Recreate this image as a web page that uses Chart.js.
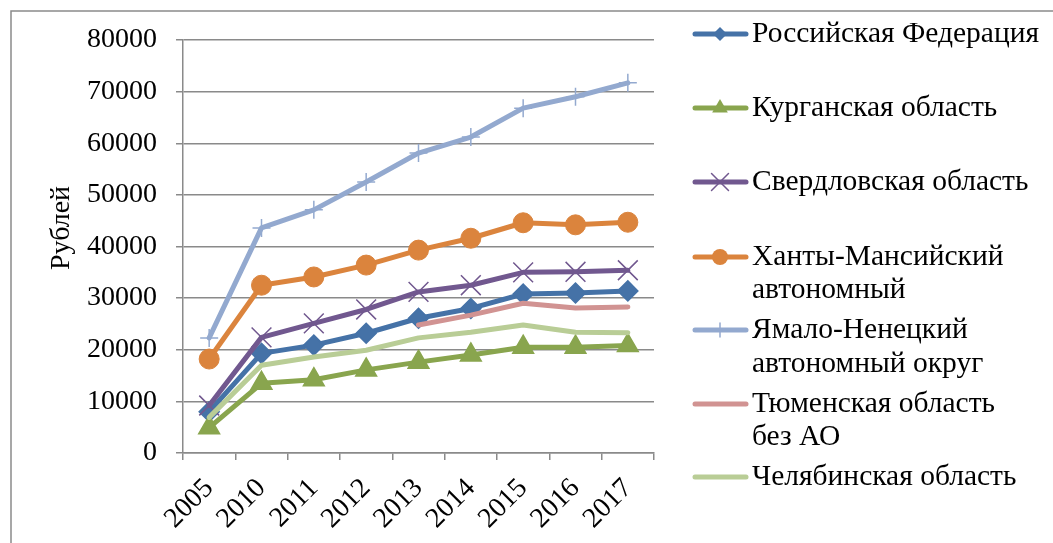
<!DOCTYPE html>
<html lang="ru">
<head>
<meta charset="utf-8">
<title>Рублей</title>
<script src="https://cdn.jsdelivr.net/npm/chart.js@4.4.1/dist/chart.umd.min.js"></script>
<style>
  html, body { margin: 0; padding: 0; background: #fff; }
  #wrap { position: relative; width: 1053px; height: 543px; overflow: hidden; }
</style>
</head>
<body>
<div id="wrap"><canvas id="wageChart" width="1053" height="543"></canvas></div>
<script>
const years = ["2005","2010","2011","2012","2013","2014","2015","2016","2017"];

const rf     = [8000, 19300, 20900, 23200, 26100, 28000, 30800, 31000, 31400];
const kurgan = [4900, 13500, 14200, 16100, 17600, 19000, 20500, 20500, 20800];
const sverdl = [9200, 22400, 25100, 27800, 31200, 32500, 35000, 35100, 35400];
const khanty = [18200, 32500, 34100, 36400, 39300, 41600, 44600, 44200, 44700];
const yamal  = [22300, 43600, 47100, 52500, 58100, 61200, 66800, 69000, 71700];
const tyumen = [null, null, null, null, 24800, 26700, 29000, 28100, 28300];
const chel   = [6900, 17000, 18600, 19900, 22300, 23400, 24800, 23400, 23300];

const seriesNames = [
  ["Российская Федерация"],
  ["Курганская область"],
  ["Свердловская область"],
  ["Ханты-Мансийский", "автономный"],
  ["Ямало-Ненецкий", "автономный округ"],
  ["Тюменская область", "без АО"],
  ["Челябинская область"]
];

const yTicks = [0, 10000, 20000, 30000, 40000, 50000, 60000, 70000, 80000];

const FONT = "\"Liberation Serif\", \"Times New Roman\", serif";
const GRID = "#8a8a8a";

// marker style per series: shape, size, line width of the marker itself
const markers = [
  { style: "rectRot",  r: 10, w: 1.5, legendR: 7 },
  { style: "triangle", r: 12, w: 1.5, legendR: 9 },
  { style: "crossRot", r: 14, w: 1.5, legendR: 12 },
  { style: "circle",   r: 10, w: 1,   legendR: 8 },
  { style: "cross",    r: 9,  w: 1.5, legendR: 7 },
  { style: false,      r: 0,  w: 0,   legendR: 0 },
  { style: false,      r: 0,  w: 0,   legendR: 0 }
];

const colors = ["#4572a7", "#89a54e", "#71588f", "#db843d", "#93a9cf", "#d19392", "#b9cd96"];
const values = [rf, kurgan, sverdl, khanty, yamal, tyumen, chel];

function makeDataset(i)
{
  const m = markers[i];
  return {
    label: seriesNames[i].join(" "),
    data: values[i],
    borderColor: colors[i],
    backgroundColor: colors[i],
    borderWidth: 5,
    borderJoinStyle: "round",
    borderCapStyle: "round",
    pointStyle: m.style,
    pointRadius: m.r,
    pointBorderWidth: m.w,
    pointBorderColor: colors[i],
    pointBackgroundColor: colors[i],
    spanGaps: false,
    order: -i,
    tension: 0
  };
}

// legend with wrapped labels to the right of the plot
const legendRows = [[34], [108], [182], [257, 290], [330, 364], [404, 437], [477]];

function drawMarker(ctx, style, x, y, r, color)
{
  ctx.save();
  ctx.fillStyle = color;
  ctx.strokeStyle = color;
  ctx.lineWidth = 1.5;
  ctx.beginPath();
  if (style === "rectRot")
  {
    ctx.moveTo(x, y - r); ctx.lineTo(x + r, y); ctx.lineTo(x, y + r); ctx.lineTo(x - r, y);
    ctx.closePath(); ctx.fill();
  }
  else if (style === "triangle")
  {
    ctx.moveTo(x, y - r); ctx.lineTo(x + r * 0.87, y + r * 0.5); ctx.lineTo(x - r * 0.87, y + r * 0.5);
    ctx.closePath(); ctx.fill();
  }
  else if (style === "circle")
  {
    ctx.arc(x, y, r, 0, Math.PI * 2); ctx.fill();
  }
  else if (style === "crossRot")
  {
    const d = r * 0.707;
    ctx.moveTo(x - d, y - d); ctx.lineTo(x + d, y + d);
    ctx.moveTo(x + d, y - d); ctx.lineTo(x - d, y + d);
    ctx.stroke();
  }
  else if (style === "cross")
  {
    ctx.moveTo(x, y - r); ctx.lineTo(x, y + r);
    ctx.stroke();
  }
  ctx.restore();
}

const frameAndLegend =
{
  id: "frameAndLegend",
  beforeDraw(chart)
  {
    const ctx = chart.ctx;
    ctx.save();
    ctx.fillStyle = "#fff";
    ctx.fillRect(0, 0, chart.width, chart.height);
    ctx.strokeStyle = GRID;
    ctx.lineWidth = 1.5;
    ctx.strokeRect(11, 11, 1200, 800);
    ctx.restore();
  },
  afterDraw(chart)
  {
    const ctx = chart.ctx;
    ctx.save();

    // axis title
    ctx.fillStyle = "#000";
    ctx.font = "28px " + FONT;
    ctx.textAlign = "center";
    ctx.textBaseline = "middle";
    ctx.translate(62, 228);
    ctx.rotate(-Math.PI / 2);
    ctx.fillText("Рублей", 0, 0);
    ctx.restore();

    ctx.save();
    ctx.font = "29.5px " + FONT;
    ctx.textAlign = "left";
    ctx.textBaseline = "middle";
    seriesNames.forEach((lines, i) =>
    {
      const ys = legendRows[i];
      const y0 = ys[0];
      ctx.strokeStyle = colors[i];
      ctx.lineWidth = 5;
      ctx.lineCap = "round";
      ctx.beginPath();
      ctx.moveTo(695, y0);
      ctx.lineTo(746, y0);
      ctx.stroke();
      if (markers[i].style) drawMarker(ctx, markers[i].style, 720, y0, markers[i].legendR, colors[i]);
      ctx.fillStyle = "#000";
      lines.forEach((t, k) => ctx.fillText(t, 752, ys[k]));
    });
    ctx.restore();
  }
};

Chart.defaults.font.family = FONT;
Chart.defaults.font.size = 28;
Chart.defaults.color = "#000";

new Chart(document.getElementById("wageChart"),
{
  type: "line",
  data:
  {
    labels: years,
    datasets: values.map((v, i) => makeDataset(i))
  },
  options:
  {
    responsive: false,
    animation: false,
    layout: { padding: { top: 40, right: 399, bottom: 0, left: 0 } },
    plugins:
    {
      legend: { display: false },
      tooltip: { enabled: false }
    },
    scales:
    {
      x:
      {
        offset: true,
        grid:
        {
          offset: true,
          drawOnChartArea: false,
          drawTicks: true,
          tickLength: 7,
          color: GRID,
          lineWidth: 1.5
        },
        border: { color: GRID, width: 1.5 },
        ticks:
        {
          autoSkip: false,
          minRotation: 45,
          maxRotation: 45,
          padding: 12,
          font: { size: 28 }
        },
        afterFit: scale => { scale.height = 90; }
      },
      y:
      {
        min: 0,
        max: 80000,
        afterBuildTicks: scale => { scale.ticks = yTicks.map(v => ({ value: v })); },
        grid:
        {
          color: GRID,
          lineWidth: 1.5,
          tickLength: 7
        },
        border: { color: GRID, width: 1.5 },
        ticks:
        {
          padding: 19,
          font: { size: 28 },
          callback: v => String(v)
        },
        afterFit: scale => { scale.width = 183; }
      }
    }
  },
  plugins: [frameAndLegend]
});
</script>
</body>
</html>
